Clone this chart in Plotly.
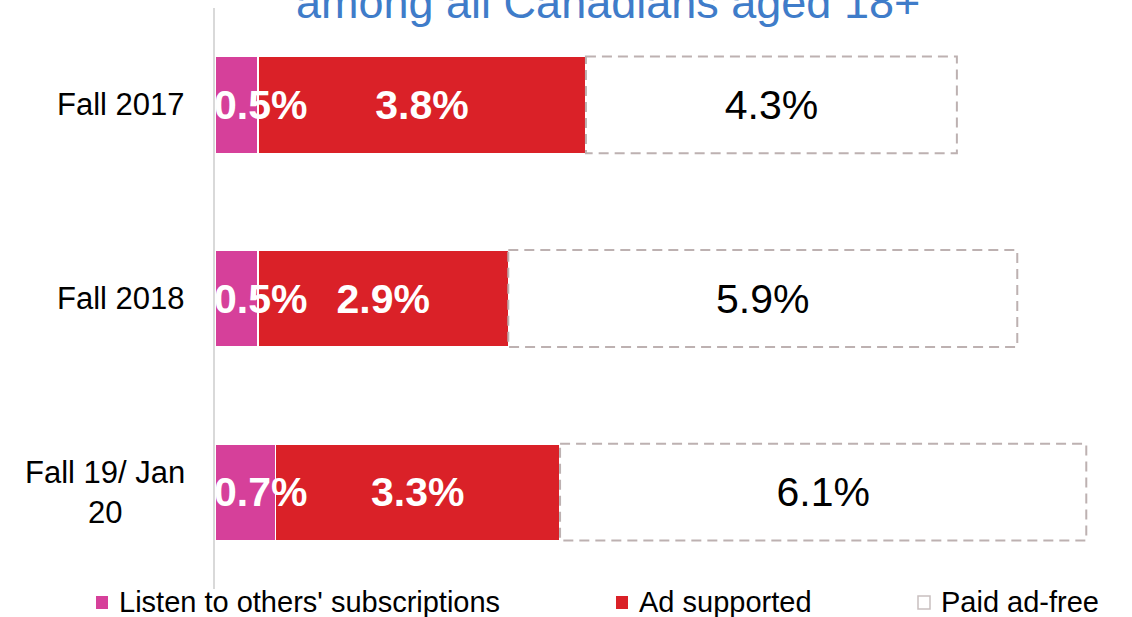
import plotly.graph_objects as go

# Streaming audio subscription types among Canadians 18+
periods = ["Fall 2017", "Fall 2018", "Fall 19/ Jan 20"]
period_labels = ["Fall 2017", "Fall 2018", "Fall 19/ Jan<br>20"]
others_subs = [0.5, 0.5, 0.7]
ad_supported = [3.8, 2.9, 3.3]
paid_ad_free = [4.3, 5.9, 6.1]
series_names = ["Listen to others' subscriptions", "Ad supported", "Paid ad-free"]

PINK = "#D6409A"
RED = "#DA2128"
DASH = "#BDB1B1"
FONT = "Arial, Liberation Sans, sans-serif"
BAR_GAP = 0.5

W, H = 1132, 617
M_L, M_R, M_T, M_B = 215, 0, 8, 28
PW, PH = W - M_L - M_R, H - M_T - M_B


def px_x(px):
    """Page pixel column -> paper x."""
    return (px - M_L) / PW


def px_y(py):
    """Page pixel row -> paper y."""
    return (H - M_B - py) / PH


fig = go.Figure()

fig.add_trace(go.Bar(
    y=periods, x=others_subs, orientation="h", name=series_names[0],
    marker=dict(color=PINK, line=dict(color="white", width=1.5)),
    hoverinfo="skip",
))
fig.add_trace(go.Bar(
    y=periods, x=ad_supported, orientation="h", name=series_names[1],
    marker=dict(color=RED, line=dict(color="white", width=1.5)),
    text=[f"{v:.1f}%" for v in ad_supported], textposition="inside",
    insidetextanchor="middle", textangle=0, constraintext="none",
    textfont=dict(family=FONT, size=41, color="white", weight="bold"),
    hoverinfo="skip",
))
fig.add_trace(go.Bar(
    y=periods, x=paid_ad_free, orientation="h", name=series_names[2],
    marker=dict(color="white", line=dict(color="white", width=0)),
    text=[f"{v:.1f}%" for v in paid_ad_free], textposition="inside",
    insidetextanchor="middle", textangle=0, constraintext="none",
    textfont=dict(family=FONT, size=41, color="black"),
    hoverinfo="skip",
))

half = (1 - BAR_GAP) / 2
shapes = []
annotations = []
for i, (p, a, f) in enumerate(zip(others_subs, ad_supported, paid_ad_free)):
    # dashed outline around the paid ad-free segment
    shapes.append(dict(
        type="rect", xref="x", yref="y",
        x0=p + a, x1=p + a + f, y0=i - half, y1=i + half,
        line=dict(color=DASH, width=2, dash="10px,6px"), layer="above",
    ))
    # label for the narrow pink segment, anchored at its left end
    annotations.append(dict(
        xref="x", yref="y", x=0, y=i, xanchor="left", yanchor="middle",
        text=f"{p:.1f}%", showarrow=False, xshift=-3,
        font=dict(family=FONT, size=41, color="white", weight="bold"),
    ))
    # category labels, centred multi-line
    annotations.append(dict(
        xref="paper", yref="y", x=0, y=i, xanchor="right", yanchor="middle",
        text=period_labels[i], showarrow=False, align="center", xshift=-28,
        font=dict(family=FONT, size=31, color="black"),
    ))

# title line (runs off the top edge)
annotations.append(dict(
    xref="paper", yref="paper", x=px_x(608), y=1.0,
    xanchor="center", yanchor="middle", yshift=6,
    text="among all Canadians aged 18+", showarrow=False,
    font=dict(family=FONT, size=45, color="#3F7CC9"),
))

# legend row along the bottom
legend_y = 602
legend_items = [
    (series_names[0], 96, PINK, PINK),
    (series_names[1], 616, RED, RED),
    (series_names[2], 918, "white", "#C9C0C0"),
]
for name, sx, fill, edge in legend_items:
    shapes.append(dict(
        type="rect", xref="paper", yref="paper",
        x0=px_x(sx), x1=px_x(sx + 12), y0=px_y(legend_y + 7), y1=px_y(legend_y - 6),
        fillcolor=fill, line=dict(color=edge, width=1.5 if fill == "white" else 0),
    ))
    annotations.append(dict(
        xref="paper", yref="paper", x=px_x(sx + 21), y=px_y(legend_y),
        xanchor="left", yanchor="middle", text=name, showarrow=False,
        font=dict(family=FONT, size=29, color="black"),
    ))

fig.update_layout(
    width=W, height=H,
    margin=dict(l=M_L, r=M_R, t=M_T, b=M_B, pad=0),
    barmode="stack", bargap=BAR_GAP, showlegend=False,
    plot_bgcolor="white", paper_bgcolor="white",
    xaxis=dict(range=[0, 10.63], visible=False, fixedrange=True),
    yaxis=dict(
        categoryorder="array", categoryarray=periods, autorange="reversed",
        showticklabels=False, ticks="", showgrid=False, zeroline=False,
        showline=True, linecolor="#D9D9D9", linewidth=1.5, fixedrange=True,
    ),
    shapes=shapes,
    annotations=annotations,
)

fig.write_html("out.html")
